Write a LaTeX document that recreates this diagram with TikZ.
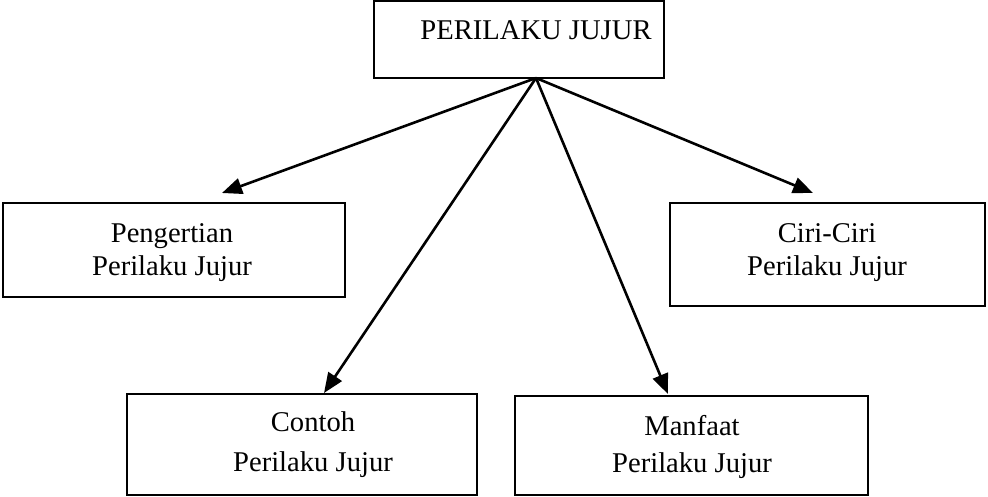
\documentclass[tikz,border=0pt]{standalone}
\usepackage{fontspec}
\setmainfont{Liberation Serif}
\usetikzlibrary{arrows.meta}
\begin{document}
\begin{tikzpicture}[x=1pt,y=-1pt,
  box/.style={draw=black,line width=2pt,minimum width=#1,inner sep=0pt},
  lbl/.style={inner sep=0pt,anchor=base,font=\fontsize{28.6}{34}\selectfont},
  arr/.style={line width=2.6pt,-{Triangle[length=20pt,width=16pt]}}]
\useasboundingbox (0,0) rectangle (988,496);
% boxes
\node[box=290pt,minimum height=77pt] (top) at (519,39.5) {};
\node[box=342pt,minimum height=94pt] (pen) at (174,250) {};
\node[box=315pt,minimum height=103pt] (ciri) at (827.5,254.5) {};
\node[box=350pt,minimum height=101pt] (con) at (302,444) {};
\node[box=353pt,minimum height=99pt] (man) at (691.5,445.5) {};
% texts
\node[lbl] (t0) at (536,39) {PERILAKU JUJUR};
\node[lbl] (t1) at (172,242) {Pengertian};
\node[lbl] (t2) at (172,275) {Perilaku Jujur};
\node[lbl] (t3) at (827,242) {Ciri-Ciri};
\node[lbl] (t4) at (827,275) {Perilaku Jujur};
\node[lbl] (t5) at (313,431) {Contoh};
\node[lbl] (t6) at (313,471) {Perilaku Jujur};
\node[lbl] (t7) at (692,435) {Manfaat};
\node[lbl] (t8) at (692,472) {Perilaku Jujur};
% connector ends
\coordinate (src) at (536,78);
\coordinate (ePen) at (222,193);
\coordinate (eCiri) at (813,193);
\coordinate (eCon) at (324,393);
\coordinate (eMan) at (668,394);
\draw[arr] (src) -- (ePen);
\draw[arr] (src) -- (eCiri);
\draw[arr] (src) -- (eCon);
\draw[arr] (src) -- (eMan);
\end{tikzpicture}
\end{document}
